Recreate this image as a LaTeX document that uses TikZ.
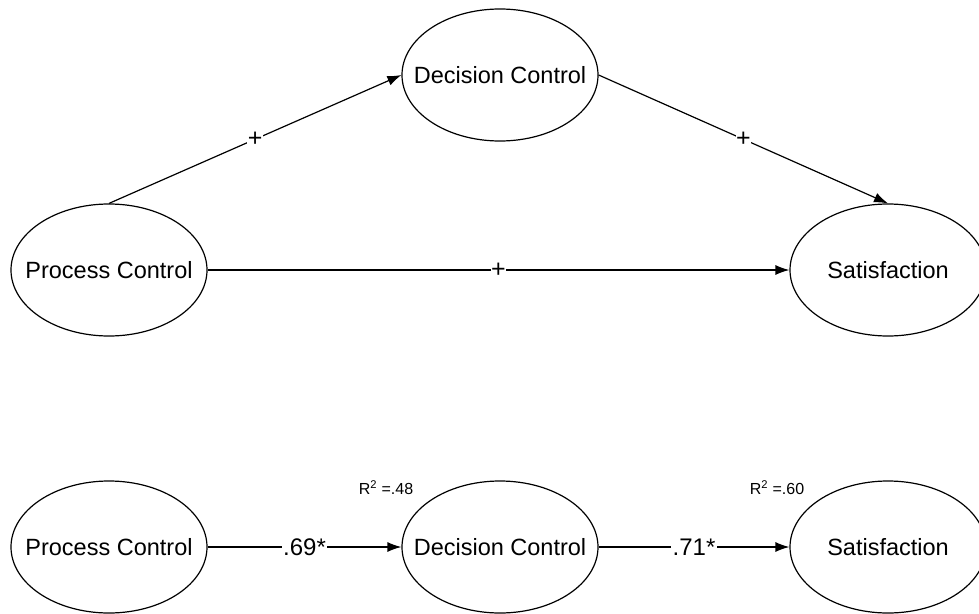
\documentclass[tikz,border=0pt]{standalone}
\usepackage{fontspec}
\setmainfont{Liberation Sans}
\usetikzlibrary{arrows.meta,shapes.geometric}
\begin{document}
\begin{tikzpicture}[x=1pt,y=-1pt,
  construct/.style={ellipse,draw,line width=1.2pt,minimum width=196pt,minimum height=132pt,
    inner sep=0pt,label={[font=\fontsize{23.5}{27}\selectfont]center:#1}},
  link/.style={line width=1.2pt,-{Latex[length=14pt,width=10pt]}},
  sign/.style={fill=white,inner sep=0.5pt,font=\fontsize{25}{28}\selectfont},
  coef/.style={fill=white,inner sep=1.5pt,font=\fontsize{24}{28}\selectfont},
  rsq/.style={font=\fontsize{16}{19}\selectfont}]
\useasboundingbox (0,0) rectangle (979,613);

% hypothesised model
\node[construct=Process Control]  (pc1)  at (109,270) {};
\node[construct=Decision Control] (dc1)  at (500,75)  {};
\node[construct=Satisfaction]     (sat1) at (888,270) {};

\draw[link] (pc1.north) -- node[sign] {+} (dc1.west);
\draw[link] (dc1.east) -- node[sign] {+} (sat1.north);
\draw[link] (pc1.east) -- node[sign] {+} (sat1.west);

% estimated model
\node[construct=Process Control]  (pc2)  at (109,547) {};
\node[construct=Decision Control] (dc2)  at (500,547) {};
\node[construct=Satisfaction]     (sat2) at (888,547) {};

\draw[link] (pc2.east) -- node[coef] {.69*} (dc2.west);
\draw[link] (dc2.east) -- node[coef] {.71*} (sat2.west);

\node[rsq] (r2dc)  at (386,488) {R\textsuperscript{2} =.48};
\node[rsq] (r2sat) at (777,488) {R\textsuperscript{2} =.60};
\end{tikzpicture}
\end{document}
